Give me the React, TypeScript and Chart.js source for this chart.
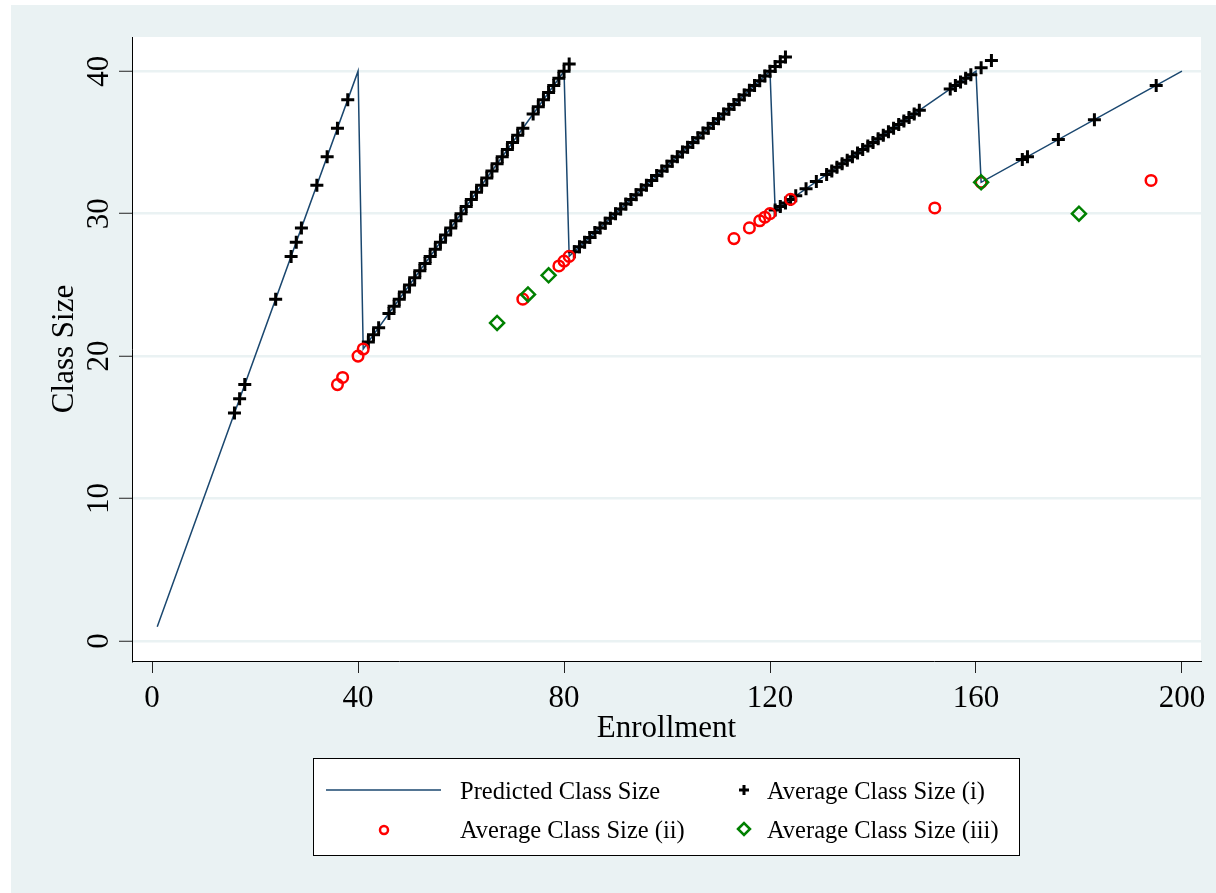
import React, { useEffect, useRef } from 'react';
import { Chart, registerables } from 'chart.js';

Chart.register(...registerables);

// ---------- data ----------
const xTickValues = [0, 40, 80, 120, 160, 200];
const yTickValues = [0, 10, 20, 30, 40];
const xTitle = 'Enrollment';
const yTitle = 'Class Size';

const predictedX = [1, 40, 41, 80, 81, 120, 121, 160, 161, 200];
const predictedY = [1, 40, 20.5, 40, 27, 40, 30.25, 40, 32.2, 40];

const plusSeg1X = [16, 17, 18, 24, 27, 28, 29, 32, 34, 36, 38];
const plusSeg1Y = [16, 17, 18, 24, 27, 28, 29, 32, 34, 36, 38];

const plusSeg2X = [42, 43, 44, 46, 47, 48, 49, 50, 51, 52, 53, 54, 55, 56, 57, 58, 59, 60, 61, 62, 63, 64, 65, 66, 67, 68, 69, 70, 71, 72, 74, 75, 76, 77, 78, 79, 80, 81];
const plusSeg2Y = [21, 21.5, 22, 23, 23.5, 24, 24.5, 25, 25.5, 26, 26.5, 27, 27.5, 28, 28.5, 29, 29.5, 30, 30.5, 31, 31.5, 32, 32.5, 33, 33.5, 34, 34.5, 35, 35.5, 36, 37, 37.5, 38, 38.5, 39, 39.5, 40, 40.5];

const plusSeg3X = [82, 83, 84, 85, 86, 87, 88, 89, 90, 91, 92, 93, 94, 95, 96, 97, 98, 99, 100, 101, 102, 103, 104, 105, 106, 107, 108, 109, 110, 111, 112, 113, 114, 115, 116, 117, 118, 119, 120, 121, 122, 123];
const plusSeg3Y = [27.33, 27.67, 28, 28.33, 28.67, 29, 29.33, 29.67, 30, 30.33, 30.67, 31, 31.33, 31.67, 32, 32.33, 32.67, 33, 33.33, 33.67, 34, 34.33, 34.67, 35, 35.33, 35.67, 36, 36.33, 36.67, 37, 37.33, 37.67, 38, 38.33, 38.67, 39, 39.33, 39.67, 40, 40.33, 40.67, 41];

const plusSeg4X = [121, 122, 123, 124, 125, 127, 129, 131, 132, 133, 134, 135, 136, 137, 138, 139, 140, 141, 142, 143, 144, 145, 146, 147, 148, 149, 155, 156, 157, 158, 159, 161, 163];
const plusSeg4Y = [30.25, 30.5, 30.75, 31, 31.25, 31.75, 32.25, 32.75, 33, 33.25, 33.5, 33.75, 34, 34.25, 34.5, 34.75, 35, 35.25, 35.5, 35.75, 36, 36.25, 36.5, 36.75, 37, 37.25, 38.75, 39, 39.25, 39.5, 39.75, 40.25, 40.75];

const plusSeg5X = [169, 170, 176, 183, 195];
const plusSeg5Y = [33.8, 34, 35.2, 36.6, 39];

const circleX = [36, 37, 40, 41, 72, 79, 80, 81, 113, 116, 118, 119, 120, 124, 152, 161, 194];
const circleY = [18, 18.5, 20, 20.5, 24, 26.33, 26.67, 27, 28.25, 29, 29.5, 29.75, 30, 31, 30.4, 32.2, 32.33];

const diamondX = [67, 73, 77, 161, 180];
const diamondY = [22.33, 24.33, 25.67, 32.2, 30];

const seriesLabels = [
  'Predicted Class Size',
  'Average Class Size (i)',
  'Average Class Size (ii)',
  'Average Class Size (iii)',
];

// ---------- styles ----------
const FONT = "'Liberation Serif', 'Times New Roman', serif";
const BG = '#EAF2F3';
const NAVY = '#1A476F';
const RED = '#FF0000';
const GREEN = '#008000';

const toPts = (xs: number[], ys: number[]) => xs.map((x, i) => ({ x, y: ys[i] }));

function drawPlus(ctx: CanvasRenderingContext2D, x: number, y: number, r: number) {
  ctx.beginPath();
  ctx.moveTo(x - r, y);
  ctx.lineTo(x + r, y);
  ctx.moveTo(x, y - r);
  ctx.lineTo(x, y + r);
  ctx.strokeStyle = '#000';
  ctx.lineWidth = 3;
  ctx.stroke();
}

const bgPlugin = {
  id: 'bgPlugin',
  beforeDraw(chart: any) {
    const { ctx, chartArea: a } = chart;
    ctx.save();
    ctx.fillStyle = '#ffffff';
    ctx.fillRect(0, 0, chart.width, chart.height);
    ctx.fillStyle = BG;
    ctx.fillRect(11, 5, chart.width - 11, chart.height - 5);
    ctx.fillStyle = '#ffffff';
    ctx.fillRect(a.left, a.top, a.right - a.left, a.bottom - a.top);
    ctx.restore();
  },
};

const textPlugin = {
  id: 'textPlugin',
  afterDraw(chart: any) {
    const { ctx, chartArea: a } = chart;
    const xs = chart.scales.x;
    const ys = chart.scales.y;
    ctx.save();
    ctx.fillStyle = '#000';
    ctx.font = `31px ${FONT}`;
    ctx.textAlign = 'center';
    ctx.textBaseline = 'alphabetic';
    xTickValues.forEach((v) => {
      ctx.fillText(String(v), xs.getPixelForValue(v), a.bottom + 46);
    });
    ctx.fillText(xTitle, (a.left + a.right) / 2, a.bottom + 76);
    yTickValues.forEach((v) => {
      ctx.save();
      ctx.translate(a.left - 24, ys.getPixelForValue(v));
      ctx.rotate(-Math.PI / 2);
      ctx.fillText(String(v), 0, 0);
      ctx.restore();
    });
    ctx.save();
    ctx.translate(a.left - 59, (a.top + a.bottom) / 2);
    ctx.rotate(-Math.PI / 2);
    ctx.fillText(yTitle, 0, 0);
    ctx.restore();
    ctx.restore();
  },
};

const legendPlugin = {
  id: 'legendPlugin',
  afterDraw(chart: any) {
    const { ctx } = chart;
    const L = 313, T = 758, W = 706, H = 97;
    ctx.save();
    ctx.fillStyle = '#ffffff';
    ctx.fillRect(L, T, W, H);
    ctx.strokeStyle = '#000';
    ctx.lineWidth = 1;
    ctx.strokeRect(L + 0.5, T + 0.5, W, H);

    const row1 = T + 32;
    const row2 = T + 72;
    // line sample
    ctx.beginPath();
    ctx.moveTo(L + 13, row1);
    ctx.lineTo(L + 128, row1);
    ctx.strokeStyle = NAVY;
    ctx.lineWidth = 1.5;
    ctx.stroke();
    // plus sample
    drawPlus(ctx, L + 431, row1, 5);
    // circle sample
    ctx.beginPath();
    ctx.arc(L + 71, row2, 4, 0, Math.PI * 2);
    ctx.strokeStyle = RED;
    ctx.lineWidth = 2.5;
    ctx.stroke();
    // diamond sample
    ctx.beginPath();
    const dx = L + 431, dy = row2 - 1, dr = 6;
    ctx.moveTo(dx - dr, dy);
    ctx.lineTo(dx, dy - dr);
    ctx.lineTo(dx + dr, dy);
    ctx.lineTo(dx, dy + dr);
    ctx.closePath();
    ctx.strokeStyle = GREEN;
    ctx.lineWidth = 2.5;
    ctx.stroke();

    ctx.fillStyle = '#000';
    ctx.font = `24.5px ${FONT}`;
    ctx.textAlign = 'left';
    ctx.textBaseline = 'alphabetic';
    ctx.fillText(seriesLabels[0], L + 147, row1 + 9);
    ctx.fillText(seriesLabels[1], L + 454, row1 + 9);
    ctx.fillText(seriesLabels[2], L + 147, row2 + 8);
    ctx.fillText(seriesLabels[3], L + 454, row2 + 8);
    ctx.restore();
  },
};

export default function App() {
  const canvasRef = useRef<HTMLCanvasElement | null>(null);

  useEffect(() => {
    if (!canvasRef.current) return;
    const plusPts = [
      ...toPts(plusSeg1X, plusSeg1Y),
      ...toPts(plusSeg2X, plusSeg2Y),
      ...toPts(plusSeg3X, plusSeg3Y),
      ...toPts(plusSeg4X, plusSeg4Y),
      ...toPts(plusSeg5X, plusSeg5Y),
    ];
    const chart = new Chart(canvasRef.current, {
      type: 'scatter',
      data: {
        datasets: [
          {
            label: seriesLabels[0],
            data: toPts(predictedX, predictedY),
            showLine: true,
            borderColor: NAVY,
            backgroundColor: NAVY,
            borderWidth: 1.5,
            pointRadius: 0,
            tension: 0,
            fill: false,
            order: 4,
          } as any,
          {
            label: seriesLabels[1],
            data: plusPts,
            pointStyle: 'cross',
            pointRadius: 6.5,
            borderWidth: 3,
            borderColor: '#000',
            backgroundColor: '#000',
            order: 3,
          },
          {
            label: seriesLabels[2],
            data: toPts(circleX, circleY),
            pointStyle: 'circle',
            pointRadius: 5.3,
            borderWidth: 2.5,
            borderColor: RED,
            backgroundColor: 'rgba(0,0,0,0)',
            order: 2,
          },
          {
            label: seriesLabels[3],
            data: toPts(diamondX, diamondY),
            pointStyle: 'rectRot',
            pointRadius: 7,
            borderWidth: 2.5,
            borderColor: GREEN,
            backgroundColor: 'rgba(0,0,0,0)',
            order: 1,
          },
        ],
      },
      options: {
        responsive: false,
        animation: false,
        events: [],
        layout: {
          padding: { left: 11, top: 37, right: 15, bottom: 147 },
          autoPadding: false,
        } as any,
        plugins: {
          legend: { display: false },
          tooltip: { enabled: false },
        },
        scales: {
          x: {
            type: 'linear',
            min: -3.9,
            max: 203.7,
            afterBuildTicks: (scale: any) => {
              scale.ticks = xTickValues.map((v) => ({ value: v }));
            },
            afterFit: (scale: any) => {
              scale.height = 85;
            },
            ticks: { display: false },
            grid: {
              display: true,
              drawOnChartArea: false,
              drawTicks: true,
              tickLength: 12,
              tickColor: '#222',
              tickWidth: 1,
            },
            border: { display: true, color: '#000', width: 1 },
          },
          y: {
            type: 'linear',
            min: -1.4,
            max: 42.4,
            afterBuildTicks: (scale: any) => {
              scale.ticks = yTickValues.map((v) => ({ value: v }));
            },
            afterFit: (scale: any) => {
              scale.width = 121;
            },
            ticks: { display: false },
            grid: {
              display: true,
              drawOnChartArea: true,
              color: BG,
              lineWidth: 2.5,
              drawTicks: true,
              tickLength: 13,
              tickColor: '#222',
              tickWidth: 1,
            },
            border: { display: true, color: '#000', width: 1 },
          },
        },
      } as any,
      plugins: [bgPlugin, textPlugin, legendPlugin],
    });
    return () => chart.destroy();
  }, []);

  return (
    <div style={{ position: 'fixed', left: 0, top: 0, width: 1216, height: 893 }}>
      <canvas ref={canvasRef} width={1216} height={893} style={{ display: 'block' }} />
    </div>
  );
}
